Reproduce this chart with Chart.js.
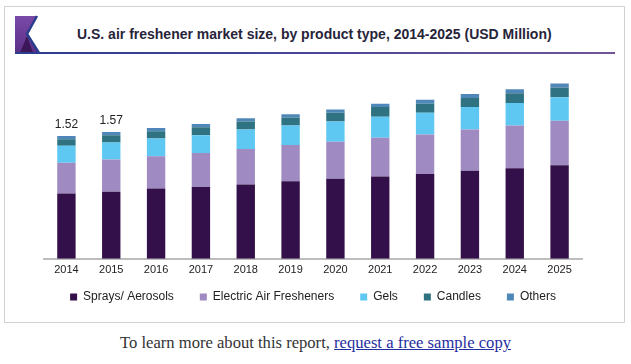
<!DOCTYPE html>
<html>
<head>
<meta charset="utf-8">
<script src="https://cdn.jsdelivr.net/npm/chart.js@4/dist/chart.umd.min.js"></script>
<style>
  body { margin: 0; width: 631px; height: 364px; background: #fff; position: relative; overflow: hidden; }
  #frame { position: absolute; left: 4px; top: 6px; width: 619px; height: 315px; border: 1px solid #d2d2d2; }
  #logo { position: absolute; left: 15px; top: 15px; }
  #title { position: absolute; left: 77px; top: 26px; font: bold 14px "Liberation Sans", Arial, sans-serif; color: #27243a; white-space: nowrap; }
  #rule { position: absolute; left: 15px; top: 52px; width: 600px; height: 2px; background: linear-gradient(to right, #2b3d8d, #4a4596 50%, #6e5597); }
  #wrap { position: absolute; left: 0; top: 60px; width: 631px; height: 270px; }
  #note { position: absolute; left: 0; width: 631px; top: 333px; text-align: center; font: 16.6px "Liberation Serif", "DejaVu Serif", serif; color: #333; }
  #note a { color: #1f2ea0; }
</style>
</head>
<body>
<div id="frame"></div>
<div id="note">To learn more about this report, <a href="#">request a free sample copy</a></div>
<svg id="logo" width="26" height="40" viewBox="0 0 26 40">
  <defs>
    <linearGradient id="lg" x1="0" y1="0" x2="0" y2="1">
      <stop offset="0" stop-color="#7a4aa9"/>
      <stop offset="1" stop-color="#5b2f86"/>
    </linearGradient>
  </defs>
  <polygon points="0,1 22,1 12,19 24,38 0,38" fill="url(#lg)"/>
  <polygon points="5,38 12,21 18,38" fill="#3b1658"/>
  <polyline points="22,1 12,19 24,38" fill="none" stroke="#2b3d8d" stroke-width="2.5"/>
</svg>
<div id="title">U.S. air freshener market size, by product type, 2014-2025 (USD Million)</div>
<div id="rule"></div>
<div id="wrap"><canvas id="chart"></canvas></div>
<script>
var years = ["2014", "2015", "2016", "2017", "2018", "2019", "2020", "2021", "2022", "2023", "2024", "2025"];
var sprays = [0.81, 0.83, 0.87, 0.89, 0.92, 0.96, 0.99, 1.02, 1.05, 1.09, 1.12, 1.16];
var electric = [0.38, 0.40, 0.40, 0.42, 0.44, 0.45, 0.46, 0.48, 0.49, 0.51, 0.53, 0.55];
var gels = [0.21, 0.21, 0.22, 0.22, 0.24, 0.24, 0.25, 0.26, 0.27, 0.28, 0.28, 0.29];
var candles = [0.08, 0.09, 0.09, 0.10, 0.10, 0.10, 0.11, 0.12, 0.11, 0.11, 0.12, 0.12];
var others = [0.04, 0.04, 0.04, 0.04, 0.04, 0.04, 0.04, 0.04, 0.05, 0.05, 0.05, 0.05];
var totalLabels = ["1.52", "1.57", "", "", "", "", "", "", "", "", "", ""];

// writes the total above the first stacks
var totalsPlugin = {
    id: 'totals',
    afterDatasetsDraw: function (chart) {
        var ctx = chart.ctx;
        var last = chart.getDatasetMeta(chart.data.datasets.length - 1);
        ctx.save();
        ctx.font = '12px "Liberation Sans", Arial, sans-serif';
        ctx.fillStyle = '#222';
        ctx.textAlign = 'center';
        ctx.textBaseline = 'middle';
        for (var i = 0; i < totalLabels.length; i++) {
            if (!totalLabels[i]) continue;
            var bar = last.data[i];
            ctx.fillText(totalLabels[i], bar.x, bar.y - 11);
        }
        ctx.restore();
    }
};

// the legend sits closer to the year labels than its padding allows
var legendLift = {
    id: 'legendLift',
    afterLayout: function (chart) {
        if (!chart.legend) return;
        chart.legend.top -= 17;
        chart.legend.bottom -= 17;
    }
};

function makeSet(label, data, color) {
    return {
        label: label,
        data: data,
        backgroundColor: color,
        borderWidth: 0,
        barPercentage: 0.41,
        categoryPercentage: 1
    };
}

var chart = new Chart(document.getElementById("chart").getContext("2d"), {
    type: 'bar',
    data: {
        labels: years,
        datasets: [
            makeSet("Sprays/ Aerosols", sprays, '#33104a'),
            makeSet("Electric Air Fresheners", electric, '#9f8ac2'),
            makeSet("Gels", gels, '#5ec8f2'),
            makeSet("Candles", candles, '#2f7383'),
            makeSet("Others", others, '#4f88b8')
        ]
    },
    options: {
        responsive: true,
        maintainAspectRatio: false,
        animation: false,
        layout: { padding: { left: 44, right: 49, top: 5, bottom: 0 } },
        plugins: {
            tooltip: { enabled: false },
            legend: {
                position: 'bottom',
                labels: {
                    boxWidth: 7,
                    boxHeight: 7,
                    padding: 26,
                    color: '#222',
                    font: { family: '"Liberation Sans", Arial, sans-serif', size: 12 }
                }
            }
        },
        scales: {
            x: {
                stacked: true,
                grid: { display: false, drawTicks: false },
                border: { display: true, color: '#bdbdbd', width: 2 },
                ticks: { color: '#222', padding: 5, font: { family: '"Liberation Sans", Arial, sans-serif', size: 11 } }
            },
            y: {
                stacked: true,
                display: false,
                min: 0,
                max: 2.4
            }
        }
    },
    plugins: [totalsPlugin, legendLift]
});
</script>
</body>
</html>
